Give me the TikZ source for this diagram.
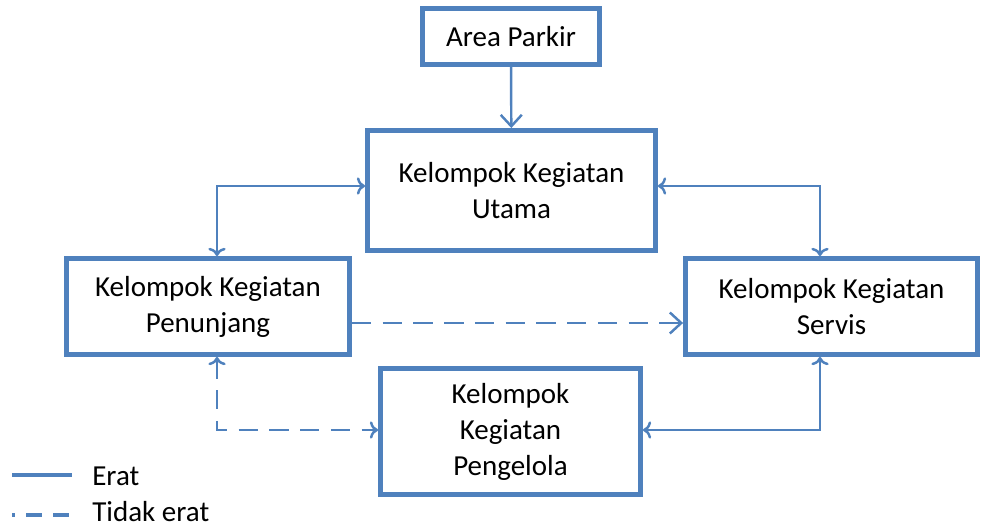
\documentclass[tikz,border=0pt]{standalone}
\usepackage{fontspec}
\setmainfont{Carlito}
\usetikzlibrary{arrows.meta}
\definecolor{garis}{RGB}{79,129,189}
\begin{document}
\begin{tikzpicture}[x=0.02cm,y=-0.02cm,
    kotak/.style={draw=garis, line width=2.8pt, align=center, inner sep=0pt,
      font=\fontsize{16.5}{20.5}\selectfont},
    erat/.style={draw=garis, line width=1.4pt, -{Straight Barb[length=6.5pt,width=12pt]}},
    tidakerat/.style={erat, dash pattern=on 11pt off 6.5pt}]

        \useasboundingbox (0,0) rectangle (981,528);

        \begin{scope}[every node/.style={kotak}]
          \node[minimum width=3.54cm, minimum height=1.12cm] (parkir)    at (511,36.5)   {Area Parkir};
          \node[minimum width=5.76cm, minimum height=2.40cm] (utama)     at (511.5,190.5) {Kelompok Kegiatan\\Utama};
          \node[minimum width=5.66cm, minimum height=1.92cm] (penunjang) at (208,306.5)  {Kelompok Kegiatan\\Penunjang};
          \node[minimum width=5.84cm, minimum height=1.92cm] (servis)    at (831.5,306.5) {Kelompok Kegiatan\\Servis};
          \node[minimum width=5.20cm, minimum height=2.52cm] (pengelola) at (510.5,431.5) {Kelompok\\Kegiatan\\Pengelola};
        \end{scope}

        \coordinate (kiri)   at (217,186);
        \coordinate (kanan)  at (820,186);
        \coordinate (tengah) at (517,323);
        \coordinate (kirib)  at (217,430);
        \coordinate (kananb) at (820,430);

        \begin{scope}[every path/.style={erat}]
          \path (parkir) edge (utama);
          \draw[<->] (kiri -| utama.west) -- (kiri) -- (kiri |- penunjang.north);
          \draw[<->] (kanan -| utama.east) -- (kanan) -- (kanan |- servis.north);
          \draw[<->] (kananb -| pengelola.east) -- (kananb) -- (kananb |- servis.south);
        \end{scope}

        \begin{scope}[every path/.style={tidakerat}]
          \draw (tengah -| penunjang.east) -- (tengah -| servis.west);
          \draw[<->] (kirib |- penunjang.south) -- (kirib) -- (kirib -| pengelola.west);
        \end{scope}

        % keterangan
        \coordinate (l1a) at (12,475);
        \coordinate (l1b) at (72,475);
        \coordinate (l2a) at (12,515);
        \coordinate (l2b) at (72,515);
        \draw[garis, line width=2pt] (l1a) -- (l1b);
        \draw[garis, line width=2pt, dash pattern=on 9pt off 6.5pt, dash phase=7.5pt] (l2a) -- (l2b);
        \node[anchor=west, inner sep=0pt, font=\fontsize{16.5}{20.5}\selectfont] (erat)  at (92,476) {Erat};
        \node[anchor=west, inner sep=0pt, font=\fontsize{16.5}{20.5}\selectfont] (tidak) at (92,512) {Tidak erat};

      \end{tikzpicture}
\end{document}
